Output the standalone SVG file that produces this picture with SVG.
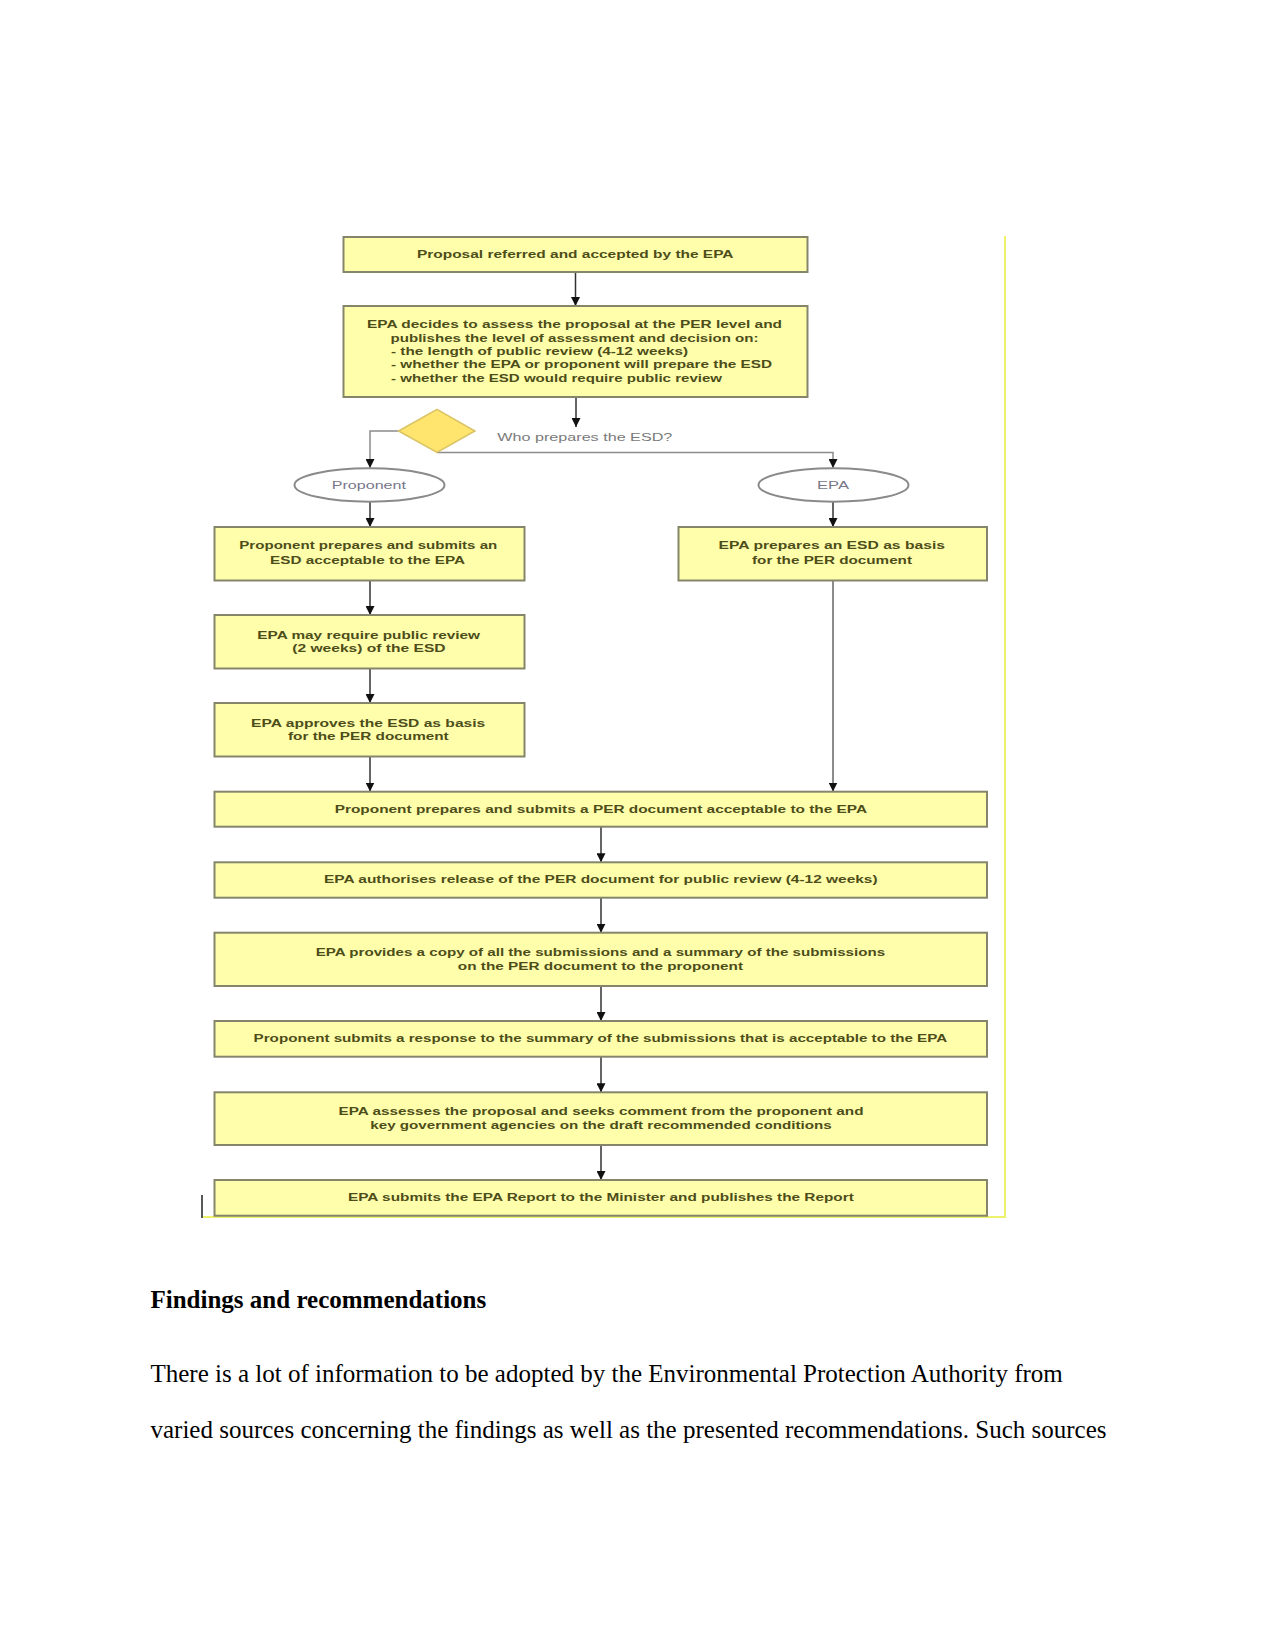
<svg xmlns="http://www.w3.org/2000/svg" width="1275" height="1651" viewBox="0 0 1275 1651">
<style>
.box{fill:#ffffab;stroke:#85856c;stroke-width:2}
.t{font-family:"Liberation Sans",Arial,sans-serif;font-size:11px;font-weight:bold;fill:#4d4d1a}
.ell{fill:#ffffff;stroke:#8a8a8a;stroke-width:2}
.et{font-family:"Liberation Sans",Arial,sans-serif;font-size:11px;fill:#77778a}
.lbl{font-family:"Liberation Sans",Arial,sans-serif;font-size:11px;fill:#7a7a7a}
.ar{fill:none;stroke:#333333;stroke-width:1.5}
.br{fill:none;stroke:#8c8c8c;stroke-width:1.5}
.body{font-family:"Liberation Serif","Times New Roman",serif;font-size:25px;fill:#000000}
</style>
<defs>
<marker id="ah" viewBox="0 0 10 10" refX="10" refY="5" markerWidth="9" markerHeight="9" markerUnits="userSpaceOnUse" orient="auto">
<path d="M0,0 L10,5 L0,10 z" fill="#111111"/>
</marker>
</defs>
<rect width="1275" height="1651" fill="#ffffff"/>
<g id="frame" fill="none" stroke="#eef26a" stroke-width="2">
<polyline points="1005,236 1005,1217 203,1217"/>
</g>
<line x1="202" y1="1195" x2="202" y2="1218" stroke="#222222" stroke-width="1.5"/>
<g id="connectors">
<line class="ar" x1="575.5" y1="272" x2="575.5" y2="306" marker-end="url(#ah)"/>
<line class="ar" x1="576" y1="397" x2="576" y2="427" marker-end="url(#ah)"/>
<polyline class="br" points="398.5,431 370,431 370,468" marker-end="url(#ah)"/>
<polyline class="br" points="437,452.5 833,452.5 833,468" marker-end="url(#ah)"/>
<line class="ar" x1="370" y1="502" x2="370" y2="527" marker-end="url(#ah)"/>
<line class="ar" x1="833" y1="502" x2="833" y2="527" marker-end="url(#ah)"/>
<line class="ar" x1="370" y1="581" x2="370" y2="615" marker-end="url(#ah)"/>
<line class="ar" x1="370" y1="668.5" x2="370" y2="703" marker-end="url(#ah)"/>
<line class="ar" x1="370" y1="756.5" x2="370" y2="791.5" marker-end="url(#ah)"/>
<line class="br" style="stroke:#666666" x1="833" y1="581" x2="833" y2="791.5" marker-end="url(#ah)"/>
<line class="ar" x1="601" y1="826.5" x2="601" y2="862.3" marker-end="url(#ah)"/>
<line class="ar" x1="601" y1="897.7" x2="601" y2="932.7" marker-end="url(#ah)"/>
<line class="ar" x1="601" y1="986" x2="601" y2="1021" marker-end="url(#ah)"/>
<line class="ar" x1="601" y1="1056.7" x2="601" y2="1092.3" marker-end="url(#ah)"/>
<line class="ar" x1="601" y1="1145" x2="601" y2="1180" marker-end="url(#ah)"/>
</g>
<g id="n1"><rect class="box" x="343.5" y="237" width="464" height="35"/>
<text class="t" x="417" y="258.3" textLength="316.5" lengthAdjust="spacingAndGlyphs">Proposal referred and accepted by the EPA</text></g>
<g id="n2"><rect class="box" x="343.5" y="306" width="464" height="91"/>
<text class="t" x="367" y="328" textLength="415" lengthAdjust="spacingAndGlyphs">EPA decides to assess the proposal at the PER level and</text>
<text class="t" x="390.5" y="341.7" textLength="368" lengthAdjust="spacingAndGlyphs">publishes the level of assessment and decision on:</text>
<text class="t" x="391" y="355" textLength="297" lengthAdjust="spacingAndGlyphs">- the length of public review (4-12 weeks)</text>
<text class="t" x="391" y="368.3" textLength="381" lengthAdjust="spacingAndGlyphs">- whether the EPA or proponent will prepare the ESD</text>
<text class="t" x="391" y="381.7" textLength="331" lengthAdjust="spacingAndGlyphs">- whether the ESD would require public review</text></g>
<g id="decision"><polygon points="437,409.3 475,431 437,452.5 398.5,431" fill="#ffe46e" stroke="#d9c365" stroke-width="1.5"/>
<text class="lbl" x="497.3" y="440.5" textLength="175" lengthAdjust="spacingAndGlyphs">Who prepares the ESD?</text></g>
<g id="proponent"><ellipse class="ell" cx="369.5" cy="485" rx="75" ry="16.7"/>
<text class="et" x="331.7" y="488.5" textLength="74.3" lengthAdjust="spacingAndGlyphs">Proponent</text></g>
<g id="epa"><ellipse class="ell" cx="833.5" cy="485" rx="75" ry="16.7"/>
<text class="et" x="817" y="488.5" textLength="32" lengthAdjust="spacingAndGlyphs">EPA</text></g>
<g id="l1"><rect class="box" x="214.5" y="527" width="310" height="53.5"/>
<text class="t" x="239.3" y="549" textLength="258" lengthAdjust="spacingAndGlyphs">Proponent prepares and submits an</text>
<text class="t" x="270" y="564" textLength="195" lengthAdjust="spacingAndGlyphs">ESD acceptable to the EPA</text></g>
<g id="r1"><rect class="box" x="678.5" y="527" width="308.5" height="53.5"/>
<text class="t" x="718.6" y="549" textLength="226.4" lengthAdjust="spacingAndGlyphs">EPA prepares an ESD as basis</text>
<text class="t" x="752" y="564" textLength="160" lengthAdjust="spacingAndGlyphs">for the PER document</text></g>
<g id="l2"><rect class="box" x="214.5" y="615" width="310" height="53.5"/>
<text class="t" x="257.3" y="638.7" textLength="222.7" lengthAdjust="spacingAndGlyphs">EPA may require public review</text>
<text class="t" x="292.3" y="652.3" textLength="153.3" lengthAdjust="spacingAndGlyphs">(2 weeks) of the ESD</text></g>
<g id="l3"><rect class="box" x="214.5" y="703" width="310" height="53.5"/>
<text class="t" x="251" y="727" textLength="234.3" lengthAdjust="spacingAndGlyphs">EPA approves the ESD as basis</text>
<text class="t" x="288" y="740" textLength="160.7" lengthAdjust="spacingAndGlyphs">for the PER document</text></g>
<g id="w1"><rect class="box" x="214.5" y="791.7" width="772.5" height="35"/>
<text class="t" x="334.7" y="813" textLength="532.4" lengthAdjust="spacingAndGlyphs">Proponent prepares and submits a PER document acceptable to the EPA</text></g>
<g id="w2"><rect class="box" x="214.5" y="862.3" width="772.5" height="35.4"/>
<text class="t" x="324" y="883" textLength="553.6" lengthAdjust="spacingAndGlyphs">EPA authorises release of the PER document for public review (4-12 weeks)</text></g>
<g id="w3"><rect class="box" x="214.5" y="932.7" width="772.5" height="53.3"/>
<text class="t" x="315.7" y="956.3" textLength="569.4" lengthAdjust="spacingAndGlyphs">EPA provides a copy of all the submissions and a summary of the submissions</text>
<text class="t" x="457.8" y="969.7" textLength="285.2" lengthAdjust="spacingAndGlyphs">on the PER document to the proponent</text></g>
<g id="w4"><rect class="box" x="214.5" y="1021" width="772.5" height="35.7"/>
<text class="t" x="253.6" y="1041.7" textLength="693.6" lengthAdjust="spacingAndGlyphs">Proponent submits a response to the summary of the submissions that is acceptable to the EPA</text></g>
<g id="w5"><rect class="box" x="214.5" y="1092.3" width="772.5" height="52.7"/>
<text class="t" x="338.5" y="1115" textLength="525" lengthAdjust="spacingAndGlyphs">EPA assesses the proposal and seeks comment from the proponent and</text>
<text class="t" x="370.3" y="1128.7" textLength="461.3" lengthAdjust="spacingAndGlyphs">key government agencies on the draft recommended conditions</text></g>
<g id="w6"><rect class="box" x="214.5" y="1180" width="772.5" height="35.7"/>
<text class="t" x="348" y="1201" textLength="505.8" lengthAdjust="spacingAndGlyphs">EPA submits the EPA Report to the Minister and publishes the Report</text></g>
<g id="bodytext">
<text class="body" x="150.5" y="1308" font-weight="bold">Findings and recommendations</text>
<text class="body" x="150.5" y="1382">There is a lot of information to be adopted by the Environmental Protection Authority from</text>
<text class="body" x="150.5" y="1438">varied sources concerning the findings as well as the presented recommendations. Such sources</text>
</g>
</svg>
